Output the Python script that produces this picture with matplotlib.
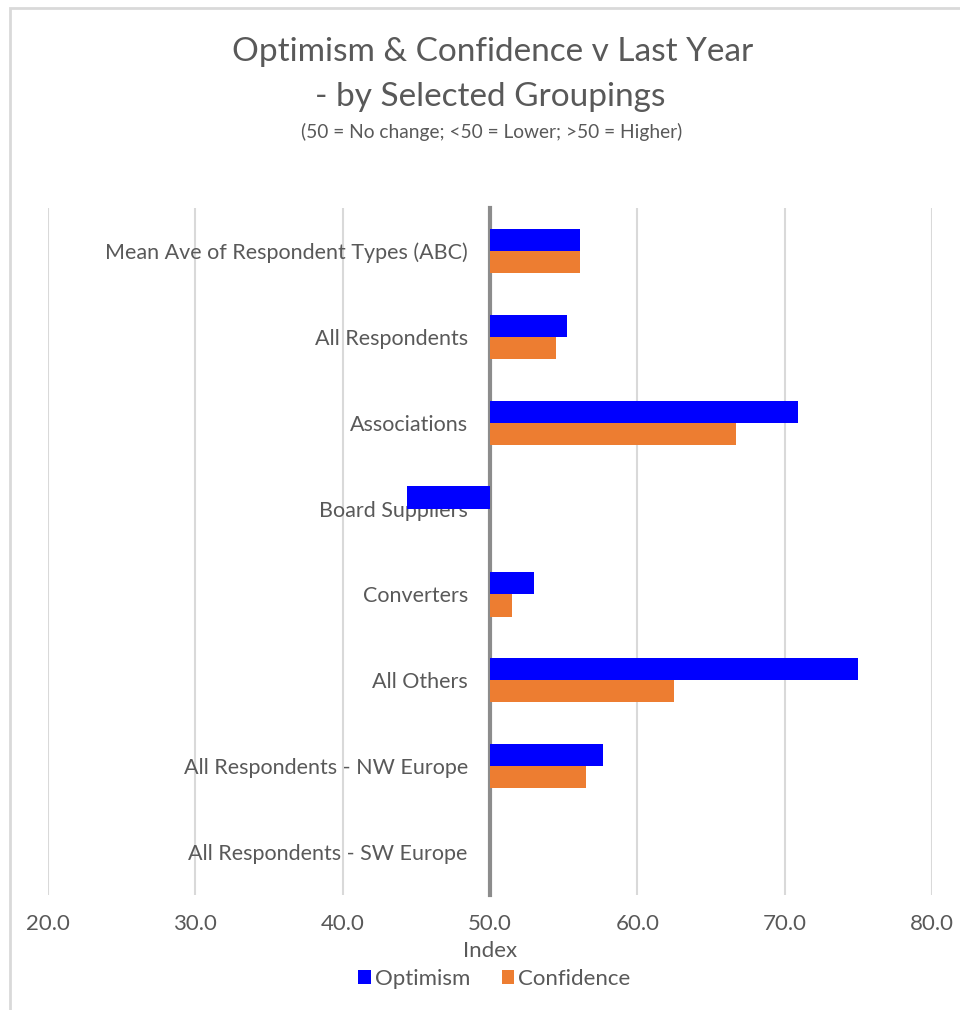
import matplotlib.pyplot as plt
from matplotlib.patches import Rectangle

plt.rcParams['font.family'] = ['Lato', 'DejaVu Sans']

# index values per grouping (50 = no change)
groups = ['Mean Ave of Respondent Types (ABC)', 'All Respondents', 'Associations',
          'Board Suppliers', 'Converters', 'All Others',
          'All Respondents - NW Europe', 'All Respondents - SW Europe']
optimism = [56.1, 55.2, 70.9, 44.4, 53.0, 75.0, 57.7, 50.0]
confidence = [56.1, 54.5, 66.7, 50.0, 51.5, 62.5, 56.5, 50.0]
xticks = [20, 30, 40, 50, 60, 70, 80]

base = 50.0
grey_txt = '#595959'
blue = '#0000ff'
orange = '#ed7d31'

fig = plt.figure(figsize=(9.6, 10.1), dpi=100)
ax = fig.add_axes([48/960, 1 - 895/1010, (932-48)/960, (895-208)/1010])

pos = list(range(len(groups)))
h = 0.257
ax.barh([p - h/2 for p in pos], [v - base for v in optimism], height=h, left=base,
        color=blue, label='Optimism', zorder=3)
ax.barh([p + h/2 for p in pos], [v - base for v in confidence], height=h, left=base,
        color=orange, label='Confidence', zorder=3)

ax.set_xlim(20, 80)
ax.set_ylim(len(groups) - 0.5, -0.5)
ax.set_xticks(xticks)
ax.set_xticklabels([f'{t:.1f}' for t in xticks])
ax.set_yticks(pos)
ax.set_yticklabels(groups)

# category axis sits at the 50 line
ax.spines['left'].set_position(('data', base))
ax.spines['left'].set_color('#8c8c8c')
ax.spines['left'].set_linewidth(3)
for s in ['top', 'right', 'bottom']:
    ax.spines[s].set_visible(False)

ax.set_axisbelow(True)
ax.grid(axis='x', color='#d9d9d9', linewidth=1.5)
ax.tick_params(axis='both', length=0, labelcolor=grey_txt, labelsize=16)
ax.tick_params(axis='y', pad=16, labelsize=15.5)
ax.tick_params(axis='x', pad=14)
ax.set_xlabel('Index', color=grey_txt, fontsize=16, labelpad=5)

fig.text(0.513, 0.949, 'Optimism & Confidence v Last Year', ha='center', va='center',
         fontsize=24, color=grey_txt)
fig.text(0.511, 0.904, '- by Selected Groupings', ha='center', va='center',
         fontsize=24, color=grey_txt)
fig.text(0.512, 0.869, '(50 = No change; <50 = Lower; >50 = Higher)', ha='center',
         va='center', fontsize=13.8, color=grey_txt)

fig.legend(loc='center', bbox_to_anchor=(0.515, 0.031), ncol=2, frameon=False,
           fontsize=16, labelcolor=grey_txt, handlelength=0.55, handleheight=0.55,
           handletextpad=0.2, columnspacing=1.4)

# light chart border
fig.add_artist(Rectangle((10/960, -0.05), 1.2, 1.05 - 8/1010, transform=fig.transFigure,
                         fill=False, edgecolor='#d9d9d9', linewidth=2))

fig.savefig('out.png', dpi=100)
